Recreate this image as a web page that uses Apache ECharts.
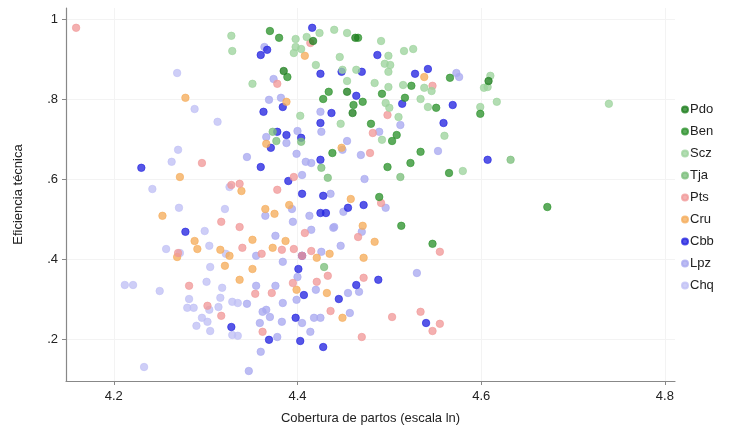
<!DOCTYPE html>
<html>
<head>
<meta charset="utf-8">
<script src="https://cdn.jsdelivr.net/npm/echarts@6/dist/echarts.min.js"></script>
<style>html,body{margin:0;padding:0;background:#fff}#c{width:731px;height:430px}</style>
</head>
<body>
<div id="c"></div>
<script>
const xTicks = [4.2, 4.4, 4.6, 4.8];
const yTicks = [0.2, 0.4, 0.6, 0.8, 1.0];
const seriesNames = ['Pdo','Ben','Scz','Tja','Pts','Cru','Cbb','Lpz','Chq'];

const pdo = [[4.454,0.818],[4.608,0.845],[4.417,0.945],[4.463,0.953],[4.385,0.870],[4.460,0.765]];
const ben = [[4.370,0.970],[4.380,0.953],[4.466,0.953],[4.389,0.855],[4.434,0.818],[4.428,0.800],[4.471,0.793],[4.461,0.785],[4.492,0.813],[4.517,0.803],[4.524,0.833],[4.566,0.853],[4.551,0.778],[4.480,0.738],[4.508,0.710],[4.503,0.695],[4.438,0.665],[4.534,0.668],[4.523,0.640],[4.498,0.630],[4.565,0.615],[4.599,0.763],[4.489,0.555],[4.513,0.483],[4.547,0.438],[4.672,0.530]];
const scz = [[4.328,0.958],[4.329,0.920],[4.398,0.950],[4.410,0.955],[4.424,0.965],[4.398,0.930],[4.404,0.925],[4.396,0.915],[4.440,0.973],[4.454,0.965],[4.446,0.905],[4.491,0.945],[4.516,0.920],[4.526,0.925],[4.499,0.908],[4.420,0.885],[4.449,0.873],[4.464,0.873],[4.495,0.888],[4.501,0.885],[4.499,0.868],[4.351,0.838],[4.454,0.845],[4.484,0.840],[4.499,0.830],[4.515,0.835],[4.538,0.828],[4.546,0.820],[4.534,0.800],[4.496,0.790],[4.500,0.778],[4.542,0.780],[4.510,0.755],[4.447,0.738],[4.403,0.758],[4.492,0.698],[4.560,0.708],[4.610,0.858],[4.603,0.828],[4.607,0.830],[4.617,0.793],[4.599,0.780],[4.580,0.620],[4.739,0.788]];
const tja = [[4.373,0.718],[4.404,0.693],[4.426,0.628],[4.433,0.603],[4.512,0.605],[4.632,0.648],[4.429,0.380],[4.377,0.695]];
const pts = [[4.159,0.978],[4.414,0.940],[4.378,0.838],[4.547,0.833],[4.498,0.760],[4.482,0.715],[4.479,0.665],[4.296,0.640],[4.328,0.585],[4.337,0.588],[4.378,0.573],[4.396,0.605],[4.491,0.540],[4.466,0.455],[4.317,0.493],[4.337,0.480],[4.340,0.428],[4.361,0.413],[4.270,0.415],[4.383,0.423],[4.396,0.425],[4.408,0.465],[4.405,0.408],[4.415,0.420],[4.555,0.418],[4.433,0.358],[4.421,0.343],[4.395,0.340],[4.472,0.353],[4.282,0.333],[4.354,0.313],[4.372,0.315],[4.302,0.283],[4.317,0.258],[4.436,0.270],[4.503,0.255],[4.534,0.268],[4.547,0.220],[4.555,0.238],[4.470,0.205],[4.362,0.218]];
const cru = [[4.408,0.908],[4.538,0.855],[4.388,0.793],[4.278,0.803],[4.366,0.688],[4.448,0.678],[4.272,0.605],[4.339,0.570],[4.458,0.550],[4.365,0.525],[4.375,0.513],[4.391,0.535],[4.471,0.483],[4.253,0.508],[4.288,0.445],[4.291,0.425],[4.269,0.405],[4.316,0.423],[4.326,0.408],[4.321,0.383],[4.351,0.448],[4.373,0.428],[4.387,0.445],[4.435,0.413],[4.421,0.403],[4.484,0.443],[4.472,0.403],[4.351,0.375],[4.337,0.348],[4.399,0.323],[4.432,0.315],[4.449,0.253]];
const cbb = [[4.416,0.978],[4.367,0.923],[4.360,0.910],[4.487,0.910],[4.425,0.863],[4.448,0.868],[4.470,0.868],[4.528,0.863],[4.542,0.875],[4.464,0.808],[4.384,0.780],[4.363,0.768],[4.437,0.765],[4.425,0.740],[4.514,0.788],[4.569,0.785],[4.559,0.740],[4.378,0.718],[4.388,0.710],[4.404,0.703],[4.371,0.678],[4.360,0.630],[4.425,0.648],[4.607,0.648],[4.230,0.628],[4.390,0.595],[4.405,0.563],[4.428,0.558],[4.472,0.535],[4.455,0.528],[4.425,0.515],[4.431,0.515],[4.278,0.468],[4.405,0.408],[4.401,0.375],[4.488,0.348],[4.464,0.335],[4.407,0.310],[4.445,0.300],[4.398,0.253],[4.540,0.240],[4.328,0.230],[4.369,0.198],[4.403,0.195],[4.428,0.180]];
const lpz = [[4.364,0.930],[4.374,0.850],[4.369,0.798],[4.382,0.803],[4.425,0.768],[4.573,0.865],[4.576,0.855],[4.512,0.735],[4.366,0.705],[4.388,0.690],[4.400,0.720],[4.426,0.718],[4.454,0.695],[4.449,0.673],[4.489,0.718],[4.469,0.660],[4.553,0.670],[4.345,0.655],[4.399,0.663],[4.409,0.643],[4.415,0.640],[4.405,0.610],[4.473,0.600],[4.436,0.563],[4.496,0.528],[4.450,0.518],[4.413,0.508],[4.394,0.525],[4.365,0.508],[4.395,0.493],[4.415,0.473],[4.440,0.480],[4.470,0.468],[4.376,0.458],[4.355,0.408],[4.384,0.393],[4.426,0.418],[4.447,0.433],[4.439,0.478],[4.530,0.365],[4.400,0.355],[4.355,0.333],[4.376,0.333],[4.420,0.323],[4.455,0.315],[4.467,0.318],[4.399,0.298],[4.345,0.288],[4.384,0.290],[4.366,0.273],[4.362,0.268],[4.370,0.255],[4.457,0.265],[4.418,0.253],[4.425,0.253],[4.359,0.240],[4.383,0.243],[4.405,0.240],[4.378,0.205],[4.414,0.218],[4.360,0.168],[4.347,0.120]];
const chq = [[4.313,0.743],[4.269,0.865],[4.288,0.775],[4.263,0.643],[4.270,0.673],[4.242,0.575],[4.326,0.580],[4.321,0.525],[4.271,0.528],[4.299,0.470],[4.304,0.433],[4.257,0.425],[4.272,0.415],[4.322,0.413],[4.305,0.380],[4.301,0.343],[4.212,0.335],[4.221,0.335],[4.250,0.320],[4.318,0.328],[4.282,0.300],[4.316,0.303],[4.329,0.293],[4.335,0.290],[4.280,0.278],[4.287,0.278],[4.304,0.273],[4.314,0.280],[4.296,0.253],[4.302,0.243],[4.290,0.233],[4.305,0.220],[4.329,0.210],[4.335,0.208],[4.233,0.130]];

const dataSets = [pdo, ben, scz, tja, pts, cru, cbb, lpz, chq];
const colors = ['#1f7f1f','#2f942f','#9dd39d','#7cbf7c','#f19a9a','#f5ad5c','#2626e0','#a9a9f0','#c0c0f5'];

const chart = echarts.init(document.getElementById('c'), null, {renderer:'canvas'});
const font = 'Liberation Sans, Arial, sans-serif';

const series = seriesNames.map((n, i) => ({
  name: n,
  type: 'scatter',
  data: dataSets[i],
  symbol: 'circle',
  symbolSize: 7.5,
  itemStyle: { color: colors[i], opacity: 0.78, borderColor: colors[i], borderWidth: 0.8 },
  emphasis: { disabled: true },
  z: 10 - i
}));

chart.setOption({
  animation: false,
  backgroundColor: '#fff',
  color: colors,
  textStyle: { fontFamily: font },
  grid: { left: 66, right: 56, top: 8, bottom: 49 },
  legend: {
    orient: 'vertical',
    left: 676,
    top: 98,
    itemWidth: 6,
    itemHeight: 6,
    itemGap: 9,
    icon: 'circle',
    textStyle: { fontFamily: font, fontSize: 13, color: '#222', padding: [0,0,0,-3] },
    data: seriesNames
  },
  xAxis: {
    type: 'value',
    min: 4.148,
    max: 4.811,
    name: 'Cobertura de partos (escala ln)',
    nameLocation: 'middle',
    nameGap: 31,
    nameTextStyle: { fontFamily: font, fontSize: 13, color: '#222' },
    axisLine: { show: true, onZero: false, lineStyle: { color: '#888', width: 1.2 } },
    axisTick: { show: true, length: 4, customValues: xTicks, lineStyle: { color: '#888' } },
    axisLabel: { customValues: xTicks, fontSize: 13, color: '#222', margin: 9, formatter: v => v.toFixed(1) },
    splitLine: { show: true, lineStyle: { color: '#f3f3f3', width: 1 } }
  },
  yAxis: {
    type: 'value',
    min: 0.095,
    max: 1.0275,
    name: 'Eficiencia técnica',
    nameLocation: 'middle',
    nameGap: 41,
    nameTextStyle: { fontFamily: font, fontSize: 13, color: '#222' },
    axisLine: { show: true, onZero: false, lineStyle: { color: '#888', width: 1.2 } },
    axisTick: { show: true, length: 4, customValues: yTicks, lineStyle: { color: '#888' } },
    axisLabel: { customValues: yTicks, fontSize: 13, color: '#222', margin: 8,
      formatter: v => (Math.abs(v - 1) < 1e-9 ? '1' : v.toFixed(1).replace(/^0/, '')) },
    splitLine: { show: true, lineStyle: { color: '#f3f3f3', width: 1 } }
  },
  series: series
});
</script>
</body>
</html>
